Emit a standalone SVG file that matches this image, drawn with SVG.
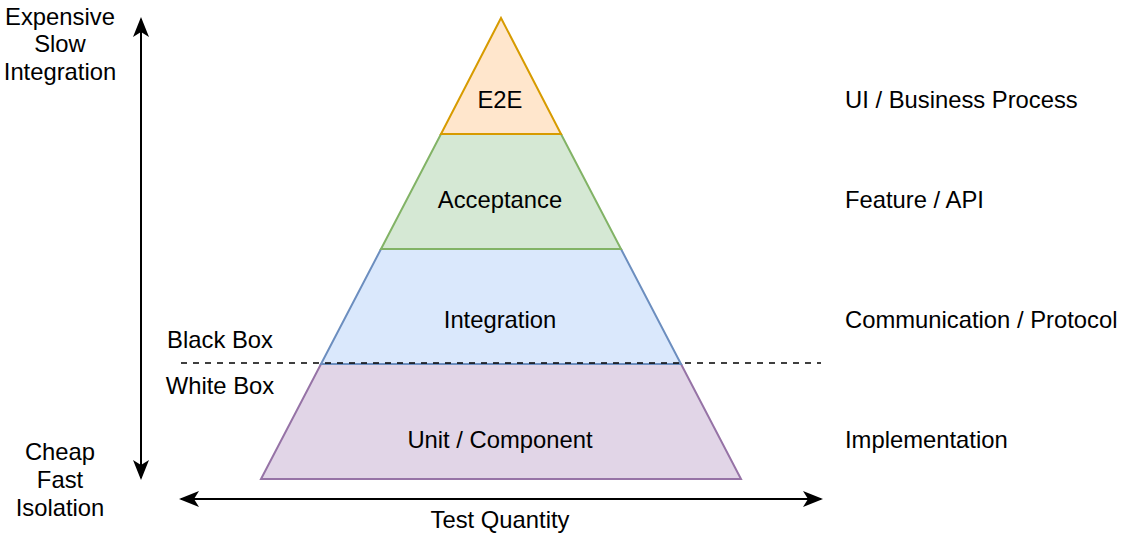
<svg xmlns="http://www.w3.org/2000/svg" width="1122" height="540" viewBox="0 0 1122 540">
<style>
text{font-family:"Liberation Sans",Arial,sans-serif;font-size:23.8px;fill:#000}
.c{text-anchor:middle}
.l{text-anchor:start}
.lvl{stroke-width:2;stroke-linejoin:miter}
</style>
<defs>
<marker id="ah" viewBox="0 0 20 16" refX="18" refY="8" markerWidth="20" markerHeight="16" markerUnits="userSpaceOnUse" orient="auto-start-reverse">
<path d="M0,0 L20,8 L0,16 L5,8 Z" fill="#000"/>
</marker>
</defs>
<rect width="1122" height="540" fill="#fff"/>
<g id="unit">
<polygon class="lvl" points="321,364 681,364 741,479 261,479" fill="#e1d5e7" stroke="#9673a6"/>
<text class="c" x="500" y="448">Unit / Component</text>
</g>
<g id="integration">
<polygon class="lvl" points="381,249 621,249 681,364 321,364" fill="#dae8fc" stroke="#6c8ebf"/>
<text class="c" x="500" y="328">Integration</text>
</g>
<g id="acceptance">
<polygon class="lvl" points="441,134 561,134 621,249 381,249" fill="#d5e8d4" stroke="#82b366"/>
<text class="c" x="500" y="208">Acceptance</text>
</g>
<g id="e2e">
<polygon class="lvl" points="501,18 561,134 441,134" fill="#ffe6cc" stroke="#d79b00"/>
<text class="c" x="500" y="108">E2E</text>
</g>
<g id="connectors">
<line x1="181" y1="363" x2="821" y2="363" stroke="#000" stroke-width="1.5" stroke-dasharray="6,6"/>
<line x1="141" y1="19" x2="141" y2="478" stroke="#000" stroke-width="2" marker-start="url(#ah)" marker-end="url(#ah)"/>
<line x1="181" y1="499" x2="821" y2="499" stroke="#000" stroke-width="2" marker-start="url(#ah)" marker-end="url(#ah)"/>
</g>
<g id="labels">
<text class="c" x="60" y="25">Expensive</text>
<text class="c" x="60" y="52">Slow</text>
<text class="c" x="60" y="80">Integration</text>
<text class="c" x="60" y="460">Cheap</text>
<text class="c" x="60" y="488">Fast</text>
<text class="c" x="60" y="516">Isolation</text>
<text class="c" x="220" y="348">Black Box</text>
<text class="c" x="220" y="394">White Box</text>
<text class="c" x="500" y="528">Test Quantity</text>
<text class="l" x="845" y="108">UI / Business Process</text>
<text class="l" x="845" y="208">Feature / API</text>
<text class="l" x="845" y="328">Communication / Protocol</text>
<text class="l" x="845" y="448">Implementation</text>
</g>
</svg>
